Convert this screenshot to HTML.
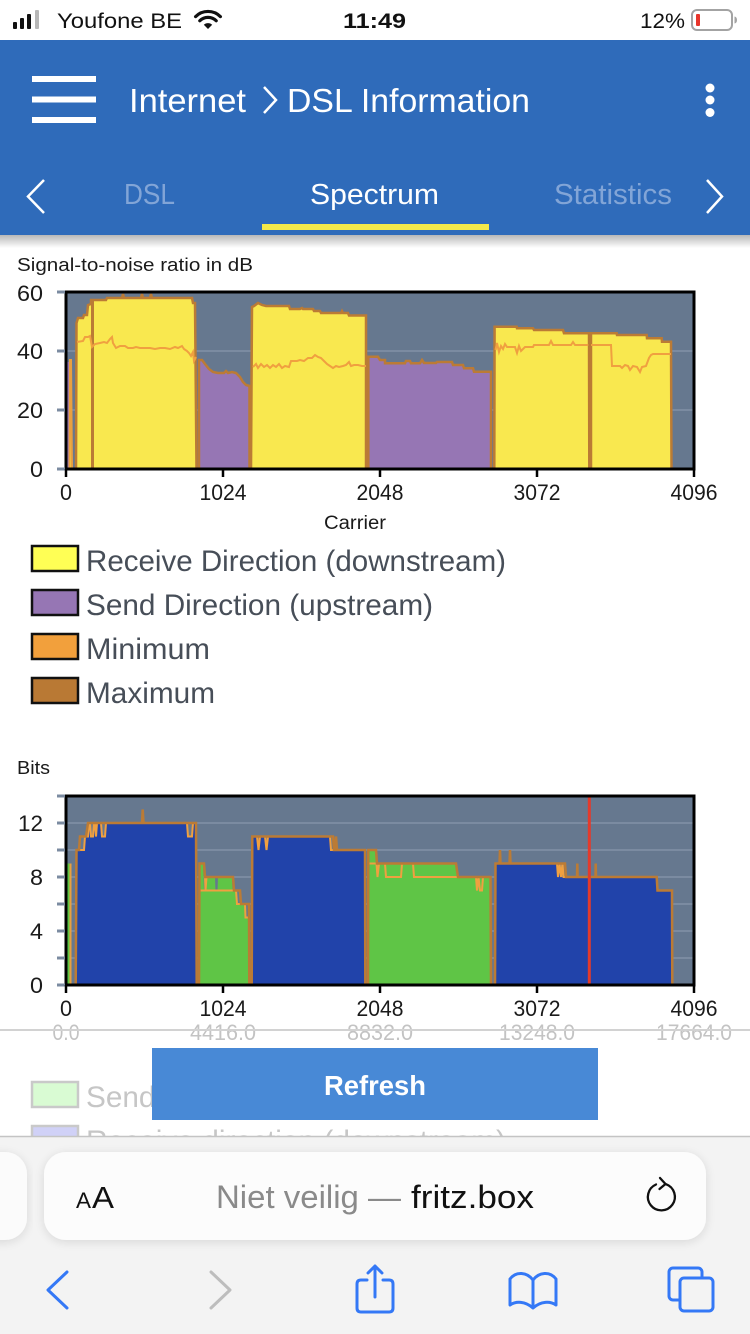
<!DOCTYPE html>
<html>
<head>
<meta charset="utf-8">
<style>
html,body{margin:0;padding:0;background:#fff;}
svg{display:block;}
text{font-family:"Liberation Sans", "DejaVu Sans", sans-serif;}
</style>
</head>
<body>
<svg width="750" height="1334" viewBox="0 0 750 1334" xmlns="http://www.w3.org/2000/svg">
<defs>
  <linearGradient id="hshadow" x1="0" y1="0" x2="0" y2="1">
    <stop offset="0" stop-color="#000" stop-opacity="0.28"/>
    <stop offset="1" stop-color="#000" stop-opacity="0"/>
  </linearGradient>
  <filter id="pillshadow" x="-10%" y="-30%" width="120%" height="160%">
    <feGaussianBlur in="SourceAlpha" stdDeviation="5"/>
    <feOffset dy="2"/>
    <feComponentTransfer><feFuncA type="linear" slope="0.12"/></feComponentTransfer>
    <feMerge><feMergeNode/><feMergeNode in="SourceGraphic"/></feMerge>
  </filter>
</defs>

<!-- background -->
<rect x="0" y="0" width="750" height="1334" fill="#ffffff"/>

<!-- STATUS BAR -->
<rect x="13" y="22" width="4" height="7" rx="1" fill="#111"/>
<rect x="20" y="18" width="4" height="11" rx="1" fill="#111"/>
<rect x="27" y="14" width="4" height="15" rx="1" fill="#111"/>
<rect x="35" y="10" width="4" height="19" rx="1" fill="#b8b8b8"/>
<text x="57" y="28" font-size="21" fill="#111" textLength="125" lengthAdjust="spacingAndGlyphs">Youfone BE</text>
<path d="M208,29 L203.8,24.8 A6,6 0 0 1 212.2,24.8 Z" fill="#111"/>
<path d="M199.8,20.8 A11.6,11.6 0 0 1 216.2,20.8" fill="none" stroke="#111" stroke-width="3.2" stroke-linecap="round"/>
<path d="M195.6,16.6 A17.5,17.5 0 0 1 220.4,16.6" fill="none" stroke="#111" stroke-width="3.2" stroke-linecap="round"/>
<text x="343" y="28" font-size="21" font-weight="bold" fill="#111" textLength="63" lengthAdjust="spacingAndGlyphs">11:49</text>
<text x="640" y="28" font-size="21" fill="#111" textLength="45" lengthAdjust="spacingAndGlyphs">12%</text>
<rect x="692" y="10" width="40" height="20" rx="5" fill="none" stroke="#a3a3a3" stroke-width="2"/>
<rect x="696" y="14" width="4" height="12" rx="1" fill="#e8352b"/>
<path d="M734.5,16.5 Q737,17 737,20 Q737,23 734.5,23.5" fill="#a3a3a3"/>

<!-- HEADER -->
<rect x="0" y="40" width="750" height="195" fill="#2f6bba"/>
<rect x="0" y="235" width="750" height="13" fill="url(#hshadow)"/>
<rect x="32" y="76" width="64" height="6" fill="#fff"/>
<rect x="32" y="96.5" width="64" height="6" fill="#fff"/>
<rect x="32" y="117" width="64" height="6" fill="#fff"/>
<text x="129" y="112" font-size="33" fill="#fff" textLength="117" lengthAdjust="spacingAndGlyphs">Internet</text>
<polyline points="264,87 276,100 264,113" fill="none" stroke="#fff" stroke-width="2.5"/>
<text x="287" y="112" font-size="33" fill="#fff" textLength="243" lengthAdjust="spacingAndGlyphs">DSL Information</text>
<circle cx="710" cy="88" r="4.5" fill="#fff"/>
<circle cx="710" cy="100" r="4.5" fill="#fff"/>
<circle cx="710" cy="112.5" r="4.5" fill="#fff"/>

<polyline points="44,180 28,196.5 44,213" fill="none" stroke="#fff" stroke-width="2.5"/>
<text x="124" y="204" font-size="29" fill="#82a5d7" textLength="51" lengthAdjust="spacingAndGlyphs">DSL</text>
<text x="310" y="204" font-size="29" fill="#fff" textLength="129" lengthAdjust="spacingAndGlyphs">Spectrum</text>
<text x="554" y="204" font-size="29" fill="#82a5d7" textLength="118" lengthAdjust="spacingAndGlyphs">Statistics</text>
<polyline points="707,180 722,196.5 707,213" fill="none" stroke="#fff" stroke-width="2.5"/>
<rect x="262" y="224" width="227" height="6" fill="#f3e94a"/>

<!-- CHART 1 : SNR -->
<text x="17" y="271" font-size="18" fill="#1a1a1a" textLength="236" lengthAdjust="spacingAndGlyphs">Signal-to-noise ratio in dB</text>

<rect x="66" y="292" width="628" height="177" fill="#66788f"/>
<line x1="66" x2="694" y1="351" y2="351" stroke="#7b8ba1" stroke-width="2"/>
<line x1="66" x2="694" y1="410" y2="410" stroke="#7b8ba1" stroke-width="2"/>

<!-- left spike -->
<polygon points="67,469 67,362 69,362 69,469" fill="#9676b4"/>
<polyline points="69.5,469 70,360 71,360 72,469" fill="#f8e84e" stroke="#e9a040" stroke-width="2"/>

<!-- yellow block 1 -->
<polygon points="76,469 76.5,323 78,318 83,318 84,315 87,315 88,305 91,304 91,300 106,300 107,298 122,298 123,294 124,298 141,298 142,294 143,298 150,298 151,294 152,298 192,298 193,303 195,303 196.5,469" fill="#f9e84f"/>
<polyline points="76,469 76.5,323 78,318 83,318 84,315 87,315 88,305 91,304 91,300 106,300 107,298 122,298 123,294 124,298 141,298 142,294 143,298 150,298 151,294 152,298 192,298 193,303 195,303 196.5,469" fill="none" stroke="#bb7b35" stroke-width="2.5"/>
<line x1="92.5" x2="92.5" y1="301" y2="469" stroke="#bb7b35" stroke-width="3"/>
<polyline points="77,342 83,341 85,337 88,337 90,336 92,347 95,344 100,343 104,342 107,343 110,339 112,337 113,343 116,348 120,346 125,346 128,348 133,348 136,347 140,348 150,348 155,349 160,348 165,348 170,349 175,347 178,348 182,346 184,349 187,351 189,353 191,356 193,352 194,361 196,357" fill="none" stroke="#f0a040" stroke-width="2"/>

<!-- purple block 1 -->
<polygon points="199,469 199,360 202,360 205,364 209,369 213,372 218,373 224,373 226,371 228,373 232,372 236,373 240,377 243,382 246,385 249.5,386 249.5,469" fill="#9676b4"/>
<polyline points="199,469 199,360 202,360 205,364 209,369 213,372 218,373 224,373 226,371 228,373 232,372 236,373 240,377 243,382 246,385 249.5,386 249.5,469" fill="none" stroke="#bb7b35" stroke-width="2.5"/>

<!-- yellow block 2 -->
<polygon points="251,469 252,307 254,306 258,303 260,304 262,305 266,306 289,306 290,309 300,309 302,308 303,309 313,309 314,311 320,311 321,313 341,313 342,311 343,313 348,313 349,315.5 366,315.5 366,469" fill="#f9e84f"/>
<polyline points="251,469 252,307 254,306 258,303 260,304 262,305 266,306 289,306 290,309 300,309 302,308 303,309 313,309 314,311 320,311 321,313 341,313 342,311 343,313 348,313 349,315.5 366,315.5 366,469" fill="none" stroke="#bb7b35" stroke-width="2.5"/>
<polyline points="253,367 256,364 258,368 261,364 264,367 267,365 270,368 273,365 276,367 279,364 282,368 285,366 289,367 291,361 297,361 300,360 304,361 308,358 312,358 315,355 318,357 321,358 324,361 327,364 330,366 333,368 336,366 339,367 343,366 346,365 349,362 351,366 354,365 358,365 362,366 366,366" fill="none" stroke="#f0a040" stroke-width="2"/>

<!-- purple block 2 -->
<polygon points="368.3,469 368.3,356.7 378,356.7 380,360 385,360 385,363.3 405,363.3 406,361 410,361 411,363.3 420,363.3 422,360 424,363 436,363 437,362 452,362 453,365 463,365 464,368.3 473,368.3 474,371.7 491,371.7 491,469" fill="#9676b4"/>
<polyline points="368.3,469 368.3,356.7 378,356.7 380,360 385,360 385,363.3 405,363.3 406,361 410,361 411,363.3 420,363.3 422,360 424,363 436,363 437,362 452,362 453,365 463,365 464,368.3 473,368.3 474,371.7 491,371.7 491,469" fill="none" stroke="#bb7b35" stroke-width="2.5"/>

<!-- yellow block 3 -->
<polygon points="494.3,469 494.6,326.7 516.7,326.7 517,328.3 533,328.3 534,330 563,330 564,333.3 589,333.3 589.3,469" fill="#f9e84f"/>
<polyline points="494.3,469 494.6,326.7 516.7,326.7 517,328.3 533,328.3 534,330 563,330 564,333.3 589,333.3 589.3,469" fill="none" stroke="#bb7b35" stroke-width="2.5"/>
<polyline points="495.5,350 497,343 499,352 501,346 503,349 505,344 507,347 515,347 517,353 519,346 521,351 525,347 533,347 534,345 549,345 551,341 553,345 571,345 573,342 575,345 590,345" fill="none" stroke="#f0a040" stroke-width="2"/>
<line x1="589.8" x2="589.8" y1="332" y2="469" stroke="#bb7b35" stroke-width="3"/>

<!-- yellow block 4 -->
<polygon points="591,469 591,333.3 616.7,333.3 617,335 646.7,335 647,338.3 661.7,338.3 662,341.7 671,341.7 671.5,469" fill="#f9e84f"/>
<polyline points="591,469 591,333.3 616.7,333.3 617,335 646.7,335 647,338.3 661.7,338.3 662,341.7 671,341.7 671.5,469" fill="none" stroke="#bb7b35" stroke-width="2.5"/>
<polyline points="591,345 611,345 612,366 620,366 622,368 625,365 628,366 630,370 633,366 637,367 640,372 642,367 646,366 649,358 651,355 653,354 671,354" fill="none" stroke="#f0a040" stroke-width="2"/>

<rect x="66" y="292" width="628" height="177" fill="none" stroke="#000" stroke-width="3"/>
<g stroke="#7b8ba1" stroke-width="3">
  <line x1="57" x2="65" y1="292" y2="292"/>
  <line x1="57" x2="65" y1="351" y2="351"/>
  <line x1="57" x2="65" y1="410" y2="410"/>
  <line x1="57" x2="65" y1="469" y2="469"/>
</g>
<g stroke="#000" stroke-width="2.5">
  <line x1="66" x2="66" y1="469" y2="477"/>
  <line x1="223" x2="223" y1="469" y2="477"/>
  <line x1="380" x2="380" y1="469" y2="477"/>
  <line x1="537" x2="537" y1="469" y2="477"/>
  <line x1="694" x2="694" y1="469" y2="477"/>
</g>
<g font-size="22" fill="#1a1a1a" text-anchor="end">
  <text x="43" y="301" textLength="26" lengthAdjust="spacingAndGlyphs">60</text>
  <text x="43" y="359" textLength="26" lengthAdjust="spacingAndGlyphs">40</text>
  <text x="43" y="418" textLength="26" lengthAdjust="spacingAndGlyphs">20</text>
  <text x="43" y="477" textLength="13" lengthAdjust="spacingAndGlyphs">0</text>
</g>
<g font-size="22" fill="#1a1a1a" text-anchor="middle">
  <text x="66" y="500" textLength="12" lengthAdjust="spacingAndGlyphs">0</text>
  <text x="223" y="500" textLength="47" lengthAdjust="spacingAndGlyphs">1024</text>
  <text x="380" y="500" textLength="47" lengthAdjust="spacingAndGlyphs">2048</text>
  <text x="537" y="500" textLength="47" lengthAdjust="spacingAndGlyphs">3072</text>
  <text x="694" y="500" textLength="47" lengthAdjust="spacingAndGlyphs">4096</text>
</g>
<text x="355" y="529" font-size="19" fill="#1a1a1a" text-anchor="middle" textLength="62" lengthAdjust="spacingAndGlyphs">Carrier</text>

<!-- LEGEND 1 -->
<rect x="32" y="546" width="46" height="25" fill="#ffff55" stroke="#111" stroke-width="2.5"/>
<text x="86" y="571" font-size="30" fill="#474e58" textLength="420" lengthAdjust="spacingAndGlyphs">Receive Direction (downstream)</text>
<rect x="32" y="590" width="46" height="25" fill="#9676b4" stroke="#111" stroke-width="2.5"/>
<text x="86" y="615" font-size="30" fill="#474e58" textLength="347" lengthAdjust="spacingAndGlyphs">Send Direction (upstream)</text>
<rect x="32" y="634" width="46" height="25" fill="#f2a03c" stroke="#111" stroke-width="2.5"/>
<text x="86" y="659" font-size="30" fill="#474e58" textLength="124" lengthAdjust="spacingAndGlyphs">Minimum</text>
<rect x="32" y="678" width="46" height="25" fill="#b97934" stroke="#111" stroke-width="2.5"/>
<text x="86" y="703" font-size="30" fill="#474e58" textLength="129" lengthAdjust="spacingAndGlyphs">Maximum</text>

<!-- CHART 2 : Bits -->
<text x="17" y="774" font-size="18" fill="#1a1a1a" textLength="33" lengthAdjust="spacingAndGlyphs">Bits</text>
<rect x="66" y="796" width="628" height="189" fill="#66788f"/>
<g stroke="#7b8ba1" stroke-width="2">
  <line x1="66" x2="694" y1="823" y2="823"/>
  <line x1="66" x2="694" y1="850" y2="850"/>
  <line x1="66" x2="694" y1="877" y2="877"/>
  <line x1="66" x2="694" y1="904" y2="904"/>
  <line x1="66" x2="694" y1="931" y2="931"/>
  <line x1="66" x2="694" y1="958" y2="958"/>
</g>

<!-- green spike -->
<rect x="67" y="863.5" width="3" height="121.5" fill="#5fc546"/>
<line x1="70.5" x2="70.5" y1="985" y2="863.5" stroke="#e9a040" stroke-width="2"/>

<!-- blue block 1 -->
<polygon points="75.7,985 76.5,850 84,850 85,836.5 88,836.5 89,823 90,823 91,836.5 93,836.5 94,823 95,823 96,836.5 97,823 101,823 102,836.5 105,836.5 106,823 187,823 188,836.5 192,836.5 193,823 196,823 196.7,985" fill="#2143aa"/>
<polyline points="76.5,850 84,850 85,836.5 88,836.5 89,823 90,823 91,836.5 93,836.5 94,823 95,823 96,836.5 97,823 101,823 102,836.5 105,836.5 106,823 187,823 188,836.5 192,836.5 193,823 196,823" fill="none" stroke="#f0a040" stroke-width="2"/>
<polyline points="75.7,985 76.5,850 79,850 80,836.5 86,836.5 88,823 142,823 142.7,809.5 143.5,823 196,823 196.7,985" fill="none" stroke="#bb7b35" stroke-width="2.5"/>

<!-- green block 1 -->
<polygon points="199,985 199.5,863.5 203,863.5 204,890.5 206,890.5 206.5,877 215,877 215.5,890.5 217.5,890.5 218,877 232,877 232.5,890.5 237,890.5 237.5,904 245,904 245.5,917.5 249,917.5 249.3,985" fill="#5fc546"/>
<polyline points="200,890.5 236,890.5 237,904 245,904 245.5,917.5 249,917.5" fill="none" stroke="#f0a040" stroke-width="2"/>
<polyline points="205,877 205.5,890.5 206.5,877" fill="none" stroke="#f0a040" stroke-width="2"/>
<polyline points="199,985 199.5,863.5 204,863.5 205,877 233,877 234,890.5 240,890.5 241,904 249,904 249.3,985" fill="none" stroke="#bb7b35" stroke-width="2.5"/>

<!-- blue block 2 -->
<polygon points="251.7,985 252.3,836.5 257,836.5 258.5,850 260,836.5 265,836.5 266.5,850 268,836.5 330,836.5 331,850 365,850 365.3,985" fill="#2143aa"/>
<polyline points="252.3,836.5 257,836.5 258.5,850 260,836.5 265,836.5 266.5,850 268,836.5 330,836.5 331,850 365,850" fill="none" stroke="#f0a040" stroke-width="2"/>
<polyline points="251.7,985 252.3,836.5 333,836.5 334,850 335,850 336,836.5 337,850 365,850 365.3,985" fill="none" stroke="#bb7b35" stroke-width="2.5"/>

<!-- green block 2 -->
<polygon points="368,985 368.3,850 376,850 377,863.5 456,863.5 458,877 490.5,877 491,985" fill="#5fc546"/>
<polyline points="368.3,863.5 376.5,863.5 377.5,877 379,863.5 385,863.5 386,877 401,877 402,863.5 413,863.5 414,877 476,877 477,890.5 478.5,877 480,890.5 482,890.5 483,877 490.5,877" fill="none" stroke="#f0a040" stroke-width="2"/>
<polyline points="368,985 368.3,850 376,850 377,863.5 456,863.5 458,877 490.5,877 491,985" fill="none" stroke="#bb7b35" stroke-width="2.5"/>

<!-- blue block 3 -->
<polygon points="495,985 495.5,863.5 560,863.5 560.5,877 656.7,877 657.5,890.5 672,890.5 672.3,985" fill="#2143aa"/>
<polyline points="557,863.5 558,877 559.5,863.5 561,877 562.5,863.5 563.5,877 600,877" fill="none" stroke="#f0a040" stroke-width="2"/>
<polyline points="495,985 495.5,863.5 499.5,863.5 500,850 500.5,863.5 509.5,863.5 510,850 510.5,863.5 565,863.5 566,877 577,877 577.3,863.5 577.6,877 595.5,877 595.7,863.5 596,877 656.7,877 657.5,890.5 672,890.5 672.3,985" fill="none" stroke="#bb7b35" stroke-width="2.5"/>

<line x1="589.3" x2="589.3" y1="797" y2="985" stroke="#e43a2b" stroke-width="3"/>

<rect x="66" y="796" width="628" height="189" fill="none" stroke="#000" stroke-width="3"/>
<g stroke="#7b8ba1" stroke-width="3">
  <line x1="57" x2="65" y1="796" y2="796"/>
  <line x1="57" x2="65" y1="823" y2="823"/>
  <line x1="57" x2="65" y1="850" y2="850"/>
  <line x1="57" x2="65" y1="877" y2="877"/>
  <line x1="57" x2="65" y1="904" y2="904"/>
  <line x1="57" x2="65" y1="931" y2="931"/>
  <line x1="57" x2="65" y1="958" y2="958"/>
  <line x1="57" x2="65" y1="985" y2="985"/>
</g>
<g stroke="#000" stroke-width="2.5">
  <line x1="66" x2="66" y1="985" y2="993"/>
  <line x1="223" x2="223" y1="985" y2="993"/>
  <line x1="380" x2="380" y1="985" y2="993"/>
  <line x1="537" x2="537" y1="985" y2="993"/>
  <line x1="694" x2="694" y1="985" y2="993"/>
</g>
<g font-size="22" fill="#1a1a1a" text-anchor="end">
  <text x="43" y="831" textLength="25" lengthAdjust="spacingAndGlyphs">12</text>
  <text x="43" y="885" textLength="13" lengthAdjust="spacingAndGlyphs">8</text>
  <text x="43" y="939" textLength="13" lengthAdjust="spacingAndGlyphs">4</text>
  <text x="43" y="993" textLength="13" lengthAdjust="spacingAndGlyphs">0</text>
</g>
<g font-size="22" fill="#1a1a1a" text-anchor="middle">
  <text x="66" y="1016" textLength="12" lengthAdjust="spacingAndGlyphs">0</text>
  <text x="223" y="1016" textLength="47" lengthAdjust="spacingAndGlyphs">1024</text>
  <text x="380" y="1016" textLength="47" lengthAdjust="spacingAndGlyphs">2048</text>
  <text x="537" y="1016" textLength="47" lengthAdjust="spacingAndGlyphs">3072</text>
  <text x="694" y="1016" textLength="47" lengthAdjust="spacingAndGlyphs">4096</text>
</g>
<g font-size="22" fill="#c3c3c3" text-anchor="middle">
  <text x="66" y="1040" textLength="27" lengthAdjust="spacingAndGlyphs">0.0</text>
  <text x="223" y="1040" textLength="66" lengthAdjust="spacingAndGlyphs">4416.0</text>
  <text x="380" y="1040" textLength="66" lengthAdjust="spacingAndGlyphs">8832.0</text>
  <text x="537" y="1040" textLength="76" lengthAdjust="spacingAndGlyphs">13248.0</text>
  <text x="694" y="1040" textLength="76" lengthAdjust="spacingAndGlyphs">17664.0</text>
</g>

<!-- footer overlay line -->
<line x1="0" x2="750" y1="1030" y2="1030" stroke="#d2d2d2" stroke-width="2"/>

<!-- faded legend 2 -->
<rect x="32" y="1082" width="46" height="25" fill="#d9fbd3" stroke="#c9c9c9" stroke-width="2.5"/>
<text x="86" y="1107" font-size="30" fill="#c6c6c6" textLength="347" lengthAdjust="spacingAndGlyphs">Send Direction (upstream)</text>
<rect x="32" y="1126" width="46" height="25" fill="#d0d1f7" stroke="#c9c9c9" stroke-width="2.5"/>
<text x="86" y="1151" font-size="30" fill="#c6c6c6" textLength="420" lengthAdjust="spacingAndGlyphs">Receive direction (downstream)</text>

<!-- Refresh button -->
<rect x="152" y="1048" width="446" height="72" fill="#4889d6"/>
<text x="375" y="1095" font-size="28" font-weight="bold" fill="#fff" text-anchor="middle" textLength="102" lengthAdjust="spacingAndGlyphs">Refresh</text>

<!-- SAFARI BAR -->
<rect x="0" y="1137" width="750" height="197" fill="#f3f3f3"/>
<line x1="0" x2="750" y1="1136.5" y2="1136.5" stroke="#c4c4c4" stroke-width="1.5"/>
<rect x="-30" y="1152" width="57" height="88" rx="22" fill="#fbfbfb" filter="url(#pillshadow)"/>
<rect x="44" y="1152" width="662" height="88" rx="22" fill="#fcfcfc" filter="url(#pillshadow)"/>
<text x="76" y="1208" font-size="22" fill="#111" textLength="15" lengthAdjust="spacingAndGlyphs">A</text>
<text x="92" y="1208" font-size="31" fill="#111" textLength="22" lengthAdjust="spacingAndGlyphs">A</text>
<text x="216" y="1208" font-size="32" fill="#8a8a8a" textLength="185" lengthAdjust="spacingAndGlyphs">Niet veilig —</text>
<text x="411" y="1208" font-size="32" fill="#111" textLength="123" lengthAdjust="spacingAndGlyphs">fritz.box</text>
<path d="M656,1184.5 A13.5,13.5 0 1 0 666,1184.2" fill="none" stroke="#111" stroke-width="2.3" stroke-linecap="round"/>
<polyline points="660,1178 665.5,1184 659.5,1189" fill="none" stroke="#111" stroke-width="2.3" stroke-linecap="round" stroke-linejoin="round"/>

<!-- bottom toolbar icons -->
<polyline points="67,1272 48,1290 67,1308" fill="none" stroke="#3478f6" stroke-width="3" stroke-linecap="round" stroke-linejoin="round"/>
<polyline points="211,1272 230,1290 211,1308" fill="none" stroke="#bdbdbd" stroke-width="3" stroke-linecap="round" stroke-linejoin="round"/>
<path d="M367,1280 L361,1280 Q357,1280 357,1284 L357,1308 Q357,1312 361,1312 L389,1312 Q393,1312 393,1308 L393,1284 Q393,1280 389,1280 L383,1280" fill="none" stroke="#3478f6" stroke-width="3" stroke-linecap="round"/>
<path d="M375,1266 L375,1297 M368,1273 L375,1266 L382,1273" fill="none" stroke="#3478f6" stroke-width="3" stroke-linecap="round" stroke-linejoin="round"/>
<path d="M533,1308 C525,1301 516,1301 510,1305 L510,1279 C516,1271 527,1272 533,1280 C539,1272 550,1271 556,1279 L556,1305 C550,1301 541,1301 533,1308 Z M533,1280 L533,1307" fill="none" stroke="#3478f6" stroke-width="3" stroke-linejoin="round"/>
<rect x="669" y="1268" width="33" height="32" rx="4" fill="none" stroke="#3478f6" stroke-width="3"/>
<rect x="680" y="1278" width="33" height="33" rx="4" fill="#f3f3f3" stroke="#3478f6" stroke-width="3"/>
</svg>
</body>
</html>
